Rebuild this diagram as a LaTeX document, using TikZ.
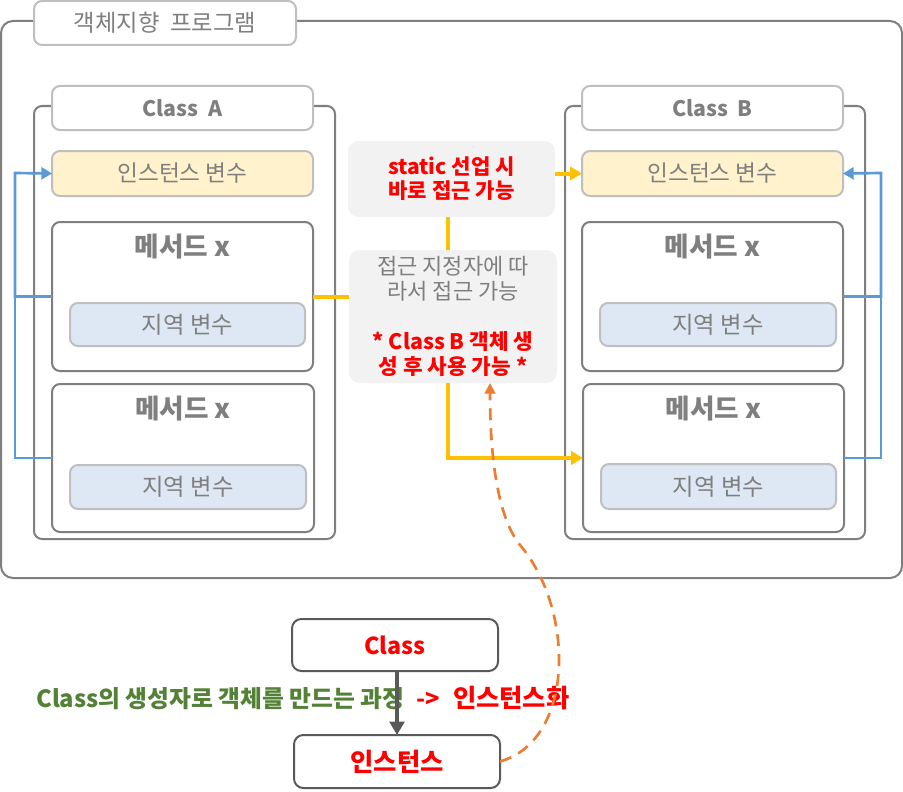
\documentclass[tikz,border=0pt]{standalone}
\usepackage{fontspec}
\setmainfont{Noto Sans CJK KR}
\usetikzlibrary{arrows.meta,calc}
\definecolor{frm}{HTML}{7F7F7F}
\definecolor{lbd}{HTML}{BFBFBF}
\definecolor{txg}{HTML}{7F7F7F}
\definecolor{yfill}{HTML}{FFF2CC}
\definecolor{bfill}{HTML}{DEE8F4}
\definecolor{cfill}{HTML}{F2F2F2}
\definecolor{yline}{HTML}{FFC000}
\definecolor{bline}{HTML}{5B9BD5}
\definecolor{oline}{HTML}{ED7D31}
\definecolor{grn}{HTML}{538135}
\definecolor{rd}{HTML}{FF0000}
\definecolor{dg}{HTML}{595959}
\begin{document}
\begin{tikzpicture}[x=0.75pt,y=-0.75pt,
  wh/.style 2 args={minimum width=#1*0.75pt,minimum height=#2*0.75pt},
  base/.style={rectangle,inner sep=0pt,outer sep=0pt,line width=1.5pt},
  bigframe/.style={base,draw=frm,rounded corners=9pt},
  clsframe/.style={base,draw=frm,rounded corners=6pt},
  lbox/.style={base,draw=lbd,fill=white,rounded corners=6pt,text=txg},
  ibox/.style={base,draw=lbd,fill=yfill,rounded corners=6pt,text=txg,font=\fontsize{17pt}{20pt}\selectfont},
  lvbox/.style={base,draw=lbd,fill=bfill,rounded corners=6pt,text=txg,font=\fontsize{17.5pt}{20pt}\selectfont},
  mbox/.style={base,draw=frm,fill=white,rounded corners=6pt},
  mtext/.style={text=txg,font=\bfseries\fontsize{20pt}{24pt}\selectfont,inner sep=0pt},
  cbox/.style={base,fill=cfill,rounded corners=8pt,align=center},
  dbox/.style={base,draw=dg,fill=white,rounded corners=7pt,text=rd,font=\bfseries\fontsize{19pt}{22pt}\selectfont},
  bluel/.style={draw=bline,line width=2pt},
  yell/.style={draw=yline,line width=3pt},
  btip/.style={-{Triangle[length=8pt,width=9pt]}},
  ytip/.style={-{Triangle[length=9pt,width=10pt]}}
]
\useasboundingbox (0,0) rectangle (903,792);

% outer frame
\node[bigframe,wh={901}{557}] (frame) at (451.5,299.5) {};
\node[lbox,wh={262}{44},font=\fontsize{17.5pt}{20pt}\selectfont] (title) at (165,23) {객체지향\ \ 프로그램};

% Class A
\node[clsframe,wh={301}{433}] (clsA) at (184.5,322.5) {};
\node[lbox,wh={261}{44},font=\bfseries\fontsize{16pt}{19pt}\selectfont] (headA) at (182.5,108) {Class\ \ A};
\node[ibox,wh={261}{45}] (instA) at (182.5,173.5) {인스턴스 변수};
\node[mbox,wh={261}{149}] (m1A) at (182.5,296.5) {};
\node[mtext] (t1A) at (182.5,247) {메서드 x};
\node[lvbox,wh={235}{43}] (l1A) at (187.5,324.5) {지역 변수};
\node[mbox,wh={262}{148}] (m2A) at (183,458) {};
\node[mtext] (t2A) at (183,409) {메서드 x};
\node[lvbox,wh={236}{44}] (l2A) at (188,487) {지역 변수};

% Class B
\node[clsframe,wh={300}{433}] (clsB) at (715,322.5) {};
\node[lbox,wh={261}{44},font=\bfseries\fontsize{16pt}{19pt}\selectfont] (headB) at (712.5,108) {Class\ \ B};
\node[ibox,wh={261}{45}] (instB) at (712.5,173.5) {인스턴스 변수};
\node[mbox,wh={261}{149}] (m1B) at (712.5,296.5) {};
\node[mtext] (t1B) at (712.5,247) {메서드 x};
\node[lvbox,wh={236}{43}] (l1B) at (718,324.5) {지역 변수};
\node[mbox,wh={261}{148}] (m2B) at (713.5,458) {};
\node[mtext] (t2B) at (713.5,409) {메서드 x};
\node[lvbox,wh={235}{45}] (l2B) at (718.5,486.5) {지역 변수};

% middle callouts
\node[cbox,wh={207}{76},text=rd,font=\bfseries\fontsize{15.8pt}{18pt}\selectfont] (stat) at (451.5,179) {static 선업 시\\바로 접근 가능};
\node[cbox,wh={208}{133},text=txg,font=\fontsize{16.5pt}{18.75pt}\selectfont] (acc) at (453,316.5)
  {접근 지정자에 따\\라서 접근 가능\\[18.75pt]{\color{rd}\bfseries\fontsize{16pt}{18.75pt}\selectfont * Class B 객체 생}\\{\color{rd}\bfseries\fontsize{16pt}{18.75pt}\selectfont 성 후 사용 가능 *}};

% blue connectors
\coordinate (bl) at (15,173);
\coordinate (br) at (881,173);
\draw[bluel] (m2A.west) -| (bl);
\draw[bluel,btip] (m1A.west) -| (bl) -- (instA.west);
\draw[bluel] (m2B.east) -| (br);
\draw[bluel,btip] (m1B.east) -| (br) -- (instB.east);

% yellow connectors
\coordinate (yx) at (448,0);
\draw[yell] (m1A.east) -- (m1A.east -| acc.west);
\draw[yell] (stat.south -| yx) -- (acc.north -| yx);
\draw[yell,ytip] (stat.east |- instB.west) -- (instB.west);
\draw[yell,ytip] (acc.south -| yx) |- (m2B.west);

% bottom
\node[dbox,wh={206}{52},font=\bfseries\fontsize{17.5pt}{21pt}\selectfont] (cls) at (395,645) {Class};
\node[dbox,wh={206}{53}] (inst) at (397,761.5) {인스턴스};
\node[inner sep=0pt,anchor=west] (lab) at (36,698)
  {\bfseries\fontsize{17.8pt}{21pt}\selectfont\color{grn}Class의 생성자로 객체를 만드는 과정\hspace{9pt}\color{rd}-{}>\hspace{10pt}{\fontsize{19pt}{21pt}\selectfont 인스턴스화}};
\draw[draw=dg,line width=3pt,-{Triangle[length=10pt,width=11pt]}] (inst.north |- cls.south) -- (inst.north);

% orange dashed
\coordinate (okink) at (520,545);
\draw[draw=oline,line width=2pt,dash pattern=on 9pt off 6pt,-{Triangle[length=8pt,width=8pt]}]
  (inst.east) .. controls (575,740) and (575,610) .. (okink)
  .. controls (496,515) and (490,450) .. (acc.south -| 490,0);
\end{tikzpicture}
\end{document}
